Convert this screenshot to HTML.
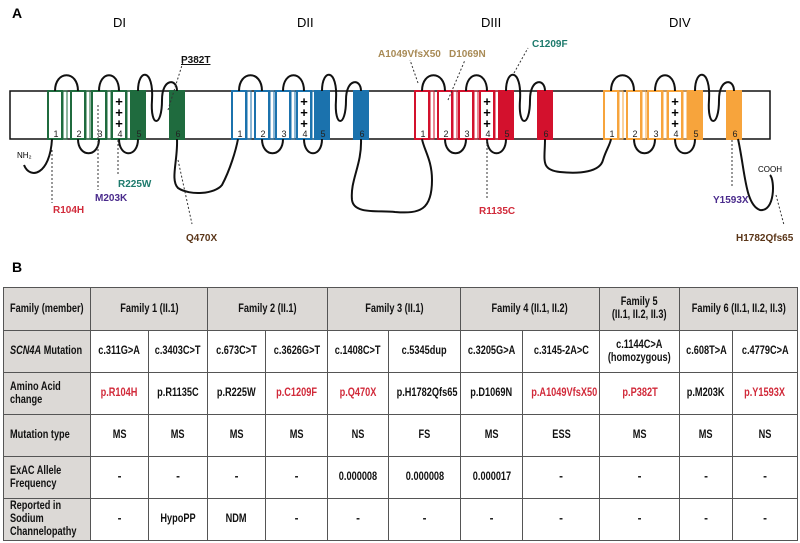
<!DOCTYPE html>
<html><head><meta charset="utf-8"><style>
body{margin:0;width:800px;height:543px;background:#fff;position:relative;overflow:hidden;font-family:"Liberation Sans",sans-serif}
svg{position:absolute;left:0;top:0}
table{position:absolute;left:3px;top:287px;width:794px;border-collapse:collapse;table-layout:fixed;font-family:"Liberation Sans",sans-serif;font-weight:bold;font-size:11.5px;color:#111}
td{border:1px solid #555;text-align:center;padding:0;line-height:13px;overflow:visible;white-space:nowrap}
td span{display:inline-block;transform:scaleX(.8)}
td.l span{transform-origin:left center}
td.h{background:#dcd9d6}
td.l{text-align:left;padding-left:6px;background:#dcd9d6}
.r{color:#d12a3a}
</style></head><body>
<svg width="800" height="290" font-family="Liberation Sans, sans-serif">
<text x="12" y="18" font-size="14" font-weight="bold">A</text>
<text x="113" y="27" font-size="13">DI</text>
<text x="297" y="27" font-size="13">DII</text>
<text x="481" y="27" font-size="13">DIII</text>
<text x="669" y="27" font-size="13">DIV</text>
<rect x="10" y="91" width="760" height="48" fill="none" stroke="#111" stroke-width="1.5"/>
<g id="segs"></g>
<g fill="none" stroke="#111" stroke-width="2" id="loops"></g>
<g fill="none" stroke="#111" stroke-width="2">
<path d="M52 139 C50 175,30 180,24 165"/>
<path d="M177 139 C178 160,170 180,178 188 C190 196,215 194,222 185 C230 170,236 150,238 139"/>
<path d="M361 139 C362 165,350 180,352 200 C354 215,380 210,395 212 C420 214,432 210,432 180 C432 160,424 150,422 139"/>
<path d="M545 139 C545 160,540 170,560 172 C580 174,600 172,603 160 C606 150,610 145,611 139"/>
<path d="M738 139 C745 170,745 205,760 210 C775 212,775 180,770 175"/>
</g>
<g font-size="9" fill="#222" text-anchor="middle" id="nums"></g>
<text x="17" y="158" font-size="8">NH₂</text>
<text x="758" y="172" font-size="8">COOH</text>
<g stroke="#333" stroke-dasharray="2,2" stroke-width="1" fill="none">
<path d="M52 150 V203"/><path d="M98 105 V190"/><path d="M118 140 V176"/><path d="M178 160 L192 224"/>
<path d="M168 110 L183 62"/><path d="M418 83 L410 60"/><path d="M448 100 L465 60"/><path d="M514 73 L528 48"/>
<path d="M487 140 V198"/><path d="M732 140 V188"/><path d="M776 195 L784 225"/>
</g>
<g font-size="10" font-weight="bold" font-family="Liberation Sans Narrow, Liberation Sans, sans-serif">
<text x="181" y="63" fill="#111" text-decoration="underline">P382T</text>
<text x="378" y="57" fill="#a88a55">A1049VfsX50</text>
<text x="449" y="57" fill="#a88a55">D1069N</text>
<text x="532" y="47" fill="#1d7a6c">C1209F</text>
<text x="118" y="187" fill="#1d7a6c">R225W</text>
<text x="95" y="201" fill="#4a2b8c">M203K</text>
<text x="53" y="213" fill="#d12a3a">R104H</text>
<text x="186" y="241" fill="#5a3518">Q470X</text>
<text x="479" y="214" fill="#d12a3a">R1135C</text>
<text x="713" y="203" fill="#4a2b8c">Y1593X</text>
<text x="736" y="241" fill="#5a3518">H1782Qfs65</text>
</g>
<text x="12" y="272" font-size="14" font-weight="bold">B</text>
</svg>
<script>
const domainColors=['#1f6b3e','#1b72ad','#d3112d','#f7a43c'];
const segX=[[48,71,92,112,131,170],[232,255,276,297,315,354],[415,438,459,480,499,538],[604,627,648,668,688,727]];
const NS='http://www.w3.org/2000/svg';
const sg=document.getElementById('segs'),lg=document.getElementById('loops'),ng=document.getElementById('nums');
segX.forEach((d,di)=>{
  d.forEach((x,i)=>{
    const r=document.createElementNS(NS,'rect');
    r.setAttribute('x',x);r.setAttribute('y',91);r.setAttribute('width',14);r.setAttribute('height',48);
    r.setAttribute('fill',i>=4?domainColors[di]:'#fff');r.setAttribute('stroke',domainColors[di]);r.setAttribute('stroke-width',2);
    
    
    sg.appendChild(r);
    if(i<4){const b=document.createElementNS(NS,'rect');b.setAttribute('x',x+15);b.setAttribute('y',91);b.setAttribute('width',4);b.setAttribute('height',48);b.setAttribute('fill','none');b.setAttribute('stroke',domainColors[di]);b.setAttribute('stroke-width',1);sg.appendChild(b);}
    const t=document.createElementNS(NS,'text');t.setAttribute('x',x+8);t.setAttribute('y',137);t.textContent=i+1;ng.appendChild(t);
  });
  const c=x=>x+7;
  const p=[`M${c(d[0])} 91 C${c(d[0])} 70,${c(d[1])} 70,${c(d[1])} 91`,
   `M${c(d[2])} 91 C${c(d[2])} 70,${c(d[3])} 70,${c(d[3])} 91`,
   `M${c(d[1])} 139 C${c(d[1])} 158,${c(d[2])} 158,${c(d[2])} 139`,
   `M${c(d[3])} 139 C${c(d[3])} 158,${c(d[4])} 158,${c(d[4])} 139`,
   `M${c(d[4])} 91 C${c(d[4])} 68,${c(d[4])+16} 68,${c(d[4])+14} 100 C${c(d[4])+12} 128,${c(d[4])+24} 128,${c(d[4])+24} 100 C${c(d[4])+24} 78,${c(d[5])} 78,${c(d[5])} 91`];
  p.forEach(s=>{const e=document.createElementNS(NS,'path');e.setAttribute('d',s);lg.appendChild(e);});
  const pl=document.createElementNS(NS,'text');pl.setAttribute('x',d[3]+7);pl.setAttribute('y',106);pl.setAttribute('font-size','13');pl.setAttribute('font-weight','bold');pl.setAttribute('text-anchor','middle');
  
  
  pl.innerHTML=`<tspan x="${d[3]+7}" dy="0">+</tspan><tspan x="${d[3]+7}" dy="11">+</tspan><tspan x="${d[3]+7}" dy="11">+</tspan>`;
  document.querySelector('svg').appendChild(pl);
});
</script>
<table>
<colgroup><col style="width:87px"><col style="width:58px"><col style="width:59px"><col style="width:58px"><col style="width:62px"><col style="width:61px"><col style="width:72px"><col style="width:62px"><col style="width:77px"><col style="width:80px"><col style="width:53px"><col style="width:65px"></colgroup>
<tr style="height:43px"><td class="l"><span>Family (member)</span></td><td class="h" colspan="2"><span>Family 1 (II.1)</span></td><td class="h" colspan="2"><span>Family 2 (II.1)</span></td><td class="h" colspan="2"><span>Family 3 (II.1)</span></td><td class="h" colspan="2"><span>Family 4 (II.1, II.2)</span></td><td class="h"><span>Family 5<br>(II.1, II.2, II.3)</span></td><td class="h" colspan="2"><span>Family 6 (II.1, II.2, II.3)</span></td></tr>
<tr style="height:42px"><td class="l"><span><i>SCN4A</i> Mutation</span></td><td><span>c.311G&gt;A</span></td><td><span>c.3403C&gt;T</span></td><td><span>c.673C&gt;T</span></td><td><span>c.3626G&gt;T</span></td><td><span>c.1408C&gt;T</span></td><td><span>c.5345dup</span></td><td><span>c.3205G&gt;A</span></td><td><span>c.3145-2A&gt;C</span></td><td><span>c.1144C&gt;A<br>(homozygous)</span></td><td><span>c.608T&gt;A</span></td><td><span>c.4779C&gt;A</span></td></tr>
<tr style="height:42px"><td class="l"><span>Amino Acid<br>change</span></td><td class="r"><span>p.R104H</span></td><td><span>p.R1135C</span></td><td><span>p.R225W</span></td><td class="r"><span>p.C1209F</span></td><td class="r"><span>p.Q470X</span></td><td><span>p.H1782Qfs65</span></td><td><span>p.D1069N</span></td><td class="r"><span>p.A1049VfsX50</span></td><td class="r"><span>p.P382T</span></td><td><span>p.M203K</span></td><td class="r"><span>p.Y1593X</span></td></tr>
<tr style="height:42px"><td class="l"><span>Mutation type</span></td><td><span>MS</span></td><td><span>MS</span></td><td><span>MS</span></td><td><span>MS</span></td><td><span>NS</span></td><td><span>FS</span></td><td><span>MS</span></td><td><span>ESS</span></td><td><span>MS</span></td><td><span>MS</span></td><td><span>NS</span></td></tr>
<tr style="height:42px"><td class="l"><span>ExAC Allele<br>Frequency</span></td><td>-</td><td>-</td><td>-</td><td>-</td><td><span>0.000008</span></td><td><span>0.000008</span></td><td><span>0.000017</span></td><td>-</td><td>-</td><td>-</td><td>-</td></tr>
<tr style="height:42px"><td class="l"><span>Reported in<br>Sodium<br>Channelopathy</span></td><td>-</td><td><span>HypoPP</span></td><td><span>NDM</span></td><td>-</td><td>-</td><td>-</td><td>-</td><td>-</td><td>-</td><td>-</td><td>-</td></tr>
</table>
</body></html>
